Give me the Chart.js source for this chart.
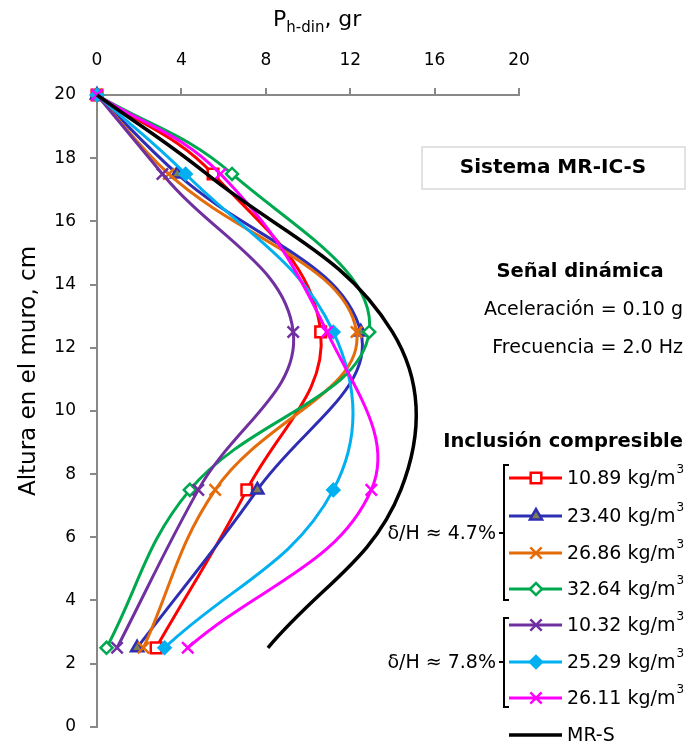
<!DOCTYPE html>
<html>
<head>
<meta charset="utf-8">
<script src="https://cdn.jsdelivr.net/npm/chart.js@4.4.1/dist/chart.umd.min.js"></script>
<style>
  body { margin: 0; background: #fff; }
</style>
</head>
<body>
<canvas id="graficoEmpuje" width="687" height="751"></canvas>
<script>
// alturas de medicion (cm) y empuje dinamico (gr) por densidad de inclusion
const alturas = [20, 17.5, 12.5, 7.5, 2.5];
const p1089 = [0, 5.5, 10.6, 7.1, 2.8];
const p2340 = [0, 3.8, 12.5, 7.6, 1.9];
const p2686 = [0, 3.4, 12.3, 5.6, 2.2];
const p3264 = [0, 6.4, 12.9, 4.4, 0.45];
const p1032 = [0, 3.1, 9.3, 4.8, 0.95];
const p2529 = [0, 4.2, 11.2, 11.2, 3.2];
const p2611 = [0, 5.85, 10.9, 13.0, 4.3];
const pMRS = [0, 5.2, 14.0, 14.4, 8.1];
const densidades = ['10.89', '23.40', '26.86', '32.64', '10.32', '25.29', '26.11'];

const fuente = 'DejaVu Sans';

const series = [
    { valores: p1089, color: '#FF0000', marca: 'rect', relleno: '#FFFFFF', radio: 7.5 },
    { valores: p2340, color: '#2E2EB5', marca: 'triangle', relleno: '#7F7F50', radio: 7 },
    { valores: p2686, color: '#E46C0A', marca: 'crossRot', relleno: '#E46C0A', radio: 8 },
    { valores: p3264, color: '#00A84F', marca: 'rectRot', relleno: '#FFFFFF', radio: 6 },
    { valores: p1032, color: '#7030A0', marca: 'crossRot', relleno: '#7030A0', radio: 8 },
    { valores: p2529, color: '#00B0F0', marca: 'rectRot', relleno: '#00B0F0', radio: 6 },
    { valores: p2611, color: '#FF00FF', marca: 'crossRot', relleno: '#FF00FF', radio: 8 }
];

function armarPuntos(valores) {
    return valores.map((v, i) => ({ x: v, y: alturas[i] }));
}

const datasets = series.map((s, i) => ({
    label: densidades[i] + ' kg/m3',
    data: armarPuntos(s.valores),
    showLine: true,
    borderColor: s.color,
    borderWidth: 3,
    tension: 0.4,
    pointStyle: s.marca,
    pointRadius: s.radio,
    pointBorderWidth: 2.5,
    pointBackgroundColor: s.relleno,
    pointBorderColor: s.color,
    clip: false,
    order: 10 - i
}));
datasets.push({
    label: 'MR-S',
    data: armarPuntos(pMRS),
    showLine: true,
    borderColor: '#000000',
    borderWidth: 3.5,
    tension: 0.4,
    pointRadius: 0,
    clip: false,
    order: 1
});

function fnt(tam, negrita) {
    return (negrita ? 'bold ' : '') + tam + 'px "' + fuente + '"';
}

function textoSup(ctx, base, sup, x, y, tam) {
    ctx.font = fnt(tam);
    ctx.textAlign = 'left';
    ctx.fillText(base, x, y);
    const w = ctx.measureText(base).width;
    ctx.font = fnt(Math.round(tam * 0.62));
    ctx.fillText(sup, x + w + 1, y - tam * 0.5);
}

const anotaciones = {
    id: 'anotaciones',
    afterDraw(chart) {
        const ctx = chart.ctx;
        ctx.save();
        ctx.fillStyle = '#000';
        ctx.textBaseline = 'middle';

        // titulo del eje x con subindice
        ctx.textAlign = 'left';
        ctx.font = fnt(22);
        const wP = ctx.measureText('P').width;
        ctx.font = fnt(15);
        const wS = ctx.measureText('h-din').width;
        const xt = 273;
        ctx.font = fnt(22);
        ctx.fillText('P', xt, 20);
        ctx.font = fnt(15);
        ctx.fillText('h-din', xt + wP, 28);
        ctx.font = fnt(22);
        ctx.fillText(', gr', xt + wP + wS, 20);

        // titulo del eje y
        ctx.save();
        ctx.translate(29, 371);
        ctx.rotate(-Math.PI / 2);
        ctx.textAlign = 'center';
        ctx.font = fnt(23);
        ctx.fillText('Altura en el muro, cm', 0, 0);
        ctx.restore();

        // recuadro del sistema
        ctx.strokeStyle = '#D9D9D9';
        ctx.lineWidth = 1.5;
        ctx.strokeRect(422, 147, 263, 42);
        ctx.textAlign = 'center';
        ctx.font = fnt(20, true);
        ctx.fillText('Sistema MR-IC-S', 553, 168);

        ctx.font = fnt(19.5, true);
        ctx.fillText('Señal dinámica', 580, 272);
        ctx.textAlign = 'right';
        ctx.font = fnt(19);
        ctx.fillText('Aceleración = 0.10 g', 683, 310);
        ctx.fillText('Frecuencia = 2.0 Hz', 683, 348);
        ctx.font = fnt(19.5, true);
        ctx.fillText('Inclusión compresible', 683, 442);

        // leyenda
        const filas = [478, 516, 553, 589, 625, 662, 698];
        series.forEach((s, i) => {
            const y = filas[i];
            ctx.strokeStyle = s.color;
            ctx.lineWidth = 3;
            ctx.beginPath();
            ctx.moveTo(509, y);
            ctx.lineTo(562, y);
            ctx.stroke();
            ctx.fillStyle = s.relleno;
            ctx.lineWidth = 2.5;
            Chart.helpers.drawPoint(ctx, { pointStyle: s.marca, radius: s.radio, borderWidth: 2.5, rotation: 0 }, 536, y);
            ctx.fillStyle = '#000';
            textoSup(ctx, densidades[i] + ' kg/m', '3', 567, y + 1, 19);
        });
        ctx.strokeStyle = '#000';
        ctx.lineWidth = 3.5;
        ctx.beginPath();
        ctx.moveTo(509, 735);
        ctx.lineTo(562, 735);
        ctx.stroke();
        ctx.font = fnt(19);
        ctx.textAlign = 'left';
        ctx.fillText('MR-S', 567, 736);

        // llaves de agrupacion
        ctx.lineWidth = 2;
        [[465, 600, 533, 'δ/H ≈ 4.7%'], [618, 707, 662, 'δ/H ≈ 7.8%']].forEach(g => {
            ctx.beginPath();
            ctx.moveTo(509, g[0]);
            ctx.lineTo(504, g[0]);
            ctx.lineTo(504, g[1]);
            ctx.lineTo(509, g[1]);
            ctx.moveTo(504, g[2]);
            ctx.lineTo(499, g[2]);
            ctx.stroke();
            ctx.textAlign = 'right';
            ctx.fillText(g[3], 496, g[2] + 1);
        });
        ctx.restore();
    }
};

new Chart(document.getElementById('graficoEmpuje'), {
    type: 'scatter',
    data: { datasets: datasets },
    options: {
        responsive: false,
        animation: false,
        devicePixelRatio: 1,
        layout: { padding: { left: 0, top: 0, right: 168, bottom: 14 } },
        plugins: {
            legend: { display: false },
            tooltip: { enabled: false }
        },
        scales: {
            x: {
                type: 'linear',
                position: 'top',
                min: 0,
                max: 20,
                ticks: { stepSize: 4, color: '#000', padding: 17, font: { family: fuente, size: 17 } },
                grid: { drawOnChartArea: false, drawTicks: true, tickLength: 7, color: '#888', lineWidth: 2 },
                border: { color: '#888', width: 2 },
                afterFit(scale) { scale.height = 95; }
            },
            y: {
                min: 0,
                max: 20,
                ticks: { stepSize: 2, color: '#000', padding: 14, font: { family: fuente, size: 17 } },
                grid: { drawOnChartArea: false, drawTicks: true, tickLength: 7, color: '#888', lineWidth: 2 },
                border: { color: '#888', width: 2 },
                afterFit(scale) { scale.width = 97; }
            }
        }
    },
    plugins: [anotaciones]
});
</script>
</body>
</html>
